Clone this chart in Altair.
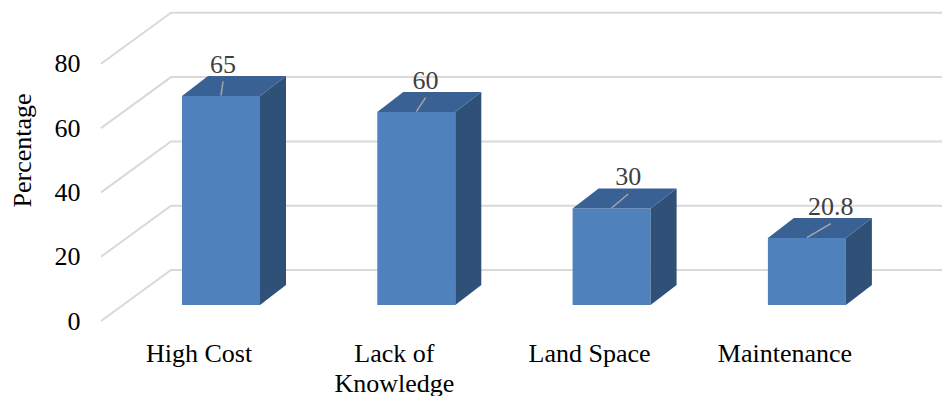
import altair as alt
import pandas as pd

# ---------------- data ----------------
categories = ["High Cost", "Lack of\nKnowledge", "Land Space", "Maintenance"]
values = [65, 60, 30, 20.8]
value_labels = ["65", "60", "30", "20.8"]
y_ticks = [0, 20, 40, 60, 80]

# ---------------- geometry (pixels) ----------------
W_TOTAL, H_TOTAL = 942, 396
PAD_LEFT = 88
PLOT_W = W_TOTAL - PAD_LEFT
SLOT_PX = 195.3          # distance between bar centres
FIRST_CENTER = 221.0     # canvas x of first bar front centre
ZERO_Y = 321.0           # canvas y of value 0 on the front plane
PX_PER_UNIT = 3.215
FLOOR_DX, FLOOR_DY = 70.0, 51.0   # full depth of the 3-D floor
BAR_FRONT_DEPTH = 0.314
BAR_W_PX = 78.0
BAR_DX, BAR_DY = 26.0, 20.0
GRID_LEFT_PX = 101.0

def px_x(p):
    return p / SLOT_PX

def px_y(p):
    return p / PX_PER_UNIT

x_dom = [(PAD_LEFT - FIRST_CENTER) / SLOT_PX, (W_TOTAL - FIRST_CENTER) / SLOT_PX]
y_dom = [(ZERO_Y - H_TOTAL) / PX_PER_UNIT, ZERO_Y / PX_PER_UNIT]

xs = alt.Scale(domain=x_dom, nice=False, zero=False)
ys = alt.Scale(domain=y_dom, nice=False, zero=False)

FONT = "Liberation Serif, Times New Roman, serif"

y_axis = alt.Axis(
    values=y_ticks, grid=False, domain=False, ticks=False,
    labelPadding=8, labelFont=FONT, labelFontSize=26, labelColor="#000000",
    labelFontWeight="normal",
    title="Percentage", titleFont=FONT, titleFontSize=26, titleFontWeight="normal",
    titleColor="#000000", titleX=-66, titleY=150, titleAngle=270,
    titleAlign="center", titleBaseline="middle")

# ---------------- grid (perspective) ----------------
g_left = px_x(GRID_LEFT_PX - FIRST_CENTER)
grid_rows = []
for t in y_ticks:
    grid_rows.append({"t": t, "o": 0, "x": g_left, "y": t})
    grid_rows.append({"t": t, "o": 1, "x": g_left + px_x(FLOOR_DX), "y": t + px_y(FLOOR_DY)})
    grid_rows.append({"t": t, "o": 2, "x": x_dom[1], "y": t + px_y(FLOOR_DY)})
grid_df = pd.DataFrame(grid_rows)

grid = alt.Chart(grid_df).mark_line(color="#d9d9d9", strokeWidth=2).encode(
    x=alt.X("x:Q", scale=xs, axis=None),
    y=alt.Y("y:Q", scale=ys, axis=y_axis),
    detail="t:N",
    order="o:Q",
)

# ---------------- bars ----------------
base = px_y(BAR_FRONT_DEPTH * FLOOR_DY)
hw = px_x(BAR_W_PX) / 2
bdx, bdy = px_x(BAR_DX), px_y(BAR_DY)

front_rows, side_rows, top_rows, lead_rows, lab_rows, cat_rows = [], [], [], [], [], []
for i, (c, v, lab) in enumerate(zip(categories, values, value_labels)):
    top = base + v
    front_rows.append({"c": c, "xl": i - hw, "xr": i + hw, "yb": base, "yt": top})
    side_rows.append({"c": c, "x": i + hw, "y": base, "y2": top})
    side_rows.append({"c": c, "x": i + hw + bdx, "y": base + bdy, "y2": top + bdy})
    top_rows.append({"c": c, "y": top, "x": i - hw, "x2": i + hw})
    top_rows.append({"c": c, "y": top + bdy, "x": i - hw + bdx, "x2": i + hw + bdx})
    ldx = px_x(2 + 7.3 * i)
    lead_rows.append({"x": i, "y": top + px_y(0.5), "x2": i + ldx, "y2": top + px_y(14.5)})
    lab_rows.append({"x": i + ldx, "y": top + px_y(23.5), "lab": lab})
    cat_rows.append({"x": i - px_x(BAR_FRONT_DEPTH * FLOOR_DX), "y": px_y(ZERO_Y - 362), "c": c})

front = alt.Chart(pd.DataFrame(front_rows)).mark_rect(color="#4f81bd").encode(
    x=alt.X("xl:Q", scale=xs, axis=None), x2="xr:Q",
    y=alt.Y("yb:Q", scale=ys, axis=y_axis), y2="yt:Q",
)

side = alt.Chart(pd.DataFrame(side_rows)).mark_area(color="#2f5178", orient="vertical").encode(
    x=alt.X("x:Q", scale=xs, axis=None),
    y=alt.Y("y:Q", scale=ys, axis=y_axis), y2="y2:Q",
    detail="c:N",
)

topf = alt.Chart(pd.DataFrame(top_rows)).mark_area(color="#3a6194", orient="horizontal").encode(
    y=alt.Y("y:Q", scale=ys, axis=y_axis),
    x=alt.X("x:Q", scale=xs, axis=None), x2="x2:Q",
    detail="c:N",
)

leaders = alt.Chart(pd.DataFrame(lead_rows)).mark_rule(color="#a6a6a6", strokeWidth=1.5).encode(
    x=alt.X("x:Q", scale=xs, axis=None), x2="x2:Q",
    y=alt.Y("y:Q", scale=ys, axis=y_axis), y2="y2:Q",
)

labels = alt.Chart(pd.DataFrame(lab_rows)).mark_text(
    font=FONT, fontSize=26, color="#404040", align="center", baseline="alphabetic"
).encode(
    x=alt.X("x:Q", scale=xs, axis=None),
    y=alt.Y("y:Q", scale=ys, axis=y_axis),
    text="lab:N",
)

cats = alt.Chart(pd.DataFrame(cat_rows)).mark_text(
    font=FONT, fontSize=26, color="#000000", align="center", baseline="alphabetic",
    lineBreak="\n", lineHeight=30
).encode(
    x=alt.X("x:Q", scale=xs, axis=None),
    y=alt.Y("y:Q", scale=ys, axis=y_axis),
    text="c:N",
)

chart = alt.layer(grid, front, side, topf, leaders, labels, cats).properties(
    width=PLOT_W, height=H_TOTAL,
    padding={"left": PAD_LEFT, "top": 0, "right": 0, "bottom": 0},
    autosize=alt.AutoSizeParams(type="none"),
    background="#ffffff",
).configure_view(stroke=None).configure_axis(
    labelFont=FONT, titleFont=FONT
).configure_text(font=FONT)

chart.save("out.html", embed_options={"renderer": "svg", "actions": False})
